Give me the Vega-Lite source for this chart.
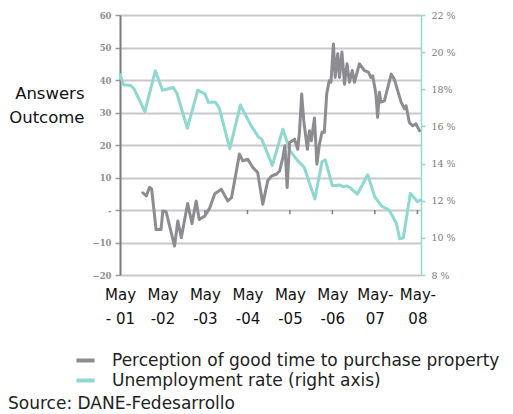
{
  "$schema": "https://vega.github.io/schema/vega-lite/v6.json",
  "width": 301,
  "height": 260,
  "autosize": "none",
  "padding": {"left": 120, "top": 15, "right": 92, "bottom": 139},
  "background": "white",
  "config": {
    "view": {"stroke": null},
    "font": "DejaVu Sans",
    "legend": {
      "orient": "none",
      "legendX": -46,
      "legendY": 334,
      "title": null,
      "labelFont": "DejaVu Sans",
      "labelFontSize": 17,
      "labelColor": "#222222",
      "labelLimit": 500,
      "symbolType": "stroke",
      "symbolStrokeWidth": 4,
      "symbolSize": 330,
      "labelOffset": 15,
      "rowPadding": -2
    },
    "title": {"font": "DejaVu Sans"}
  },
  "title": {
    "text": "Source: DANE-Fedesarrollo",
    "orient": "bottom",
    "anchor": "start",
    "frame": "group",
    "dx": -112,
    "offset": 7,
    "fontSize": 17,
    "fontWeight": "normal",
    "color": "#222222"
  },
  "datasets": {
    "unemp": [
      {"date": "2001-05-01", "rate": 18.8},
      {"date": "2001-06-01", "rate": 18.25},
      {"date": "2001-08-01", "rate": 18.2},
      {"date": "2001-09-01", "rate": 18.0},
      {"date": "2001-12-01", "rate": 16.8},
      {"date": "2002-03-01", "rate": 19.0},
      {"date": "2002-05-01", "rate": 17.95},
      {"date": "2002-08-01", "rate": 18.1},
      {"date": "2002-09-01", "rate": 17.8},
      {"date": "2002-12-01", "rate": 15.9},
      {"date": "2003-03-01", "rate": 17.95},
      {"date": "2003-05-01", "rate": 17.75},
      {"date": "2003-06-01", "rate": 17.3},
      {"date": "2003-08-01", "rate": 17.3},
      {"date": "2003-09-01", "rate": 17.0},
      {"date": "2003-12-01", "rate": 14.8},
      {"date": "2004-03-01", "rate": 17.15},
      {"date": "2004-06-01", "rate": 16.05},
      {"date": "2004-08-01", "rate": 15.45},
      {"date": "2004-09-01", "rate": 15.3},
      {"date": "2004-12-01", "rate": 13.9},
      {"date": "2005-03-01", "rate": 15.85},
      {"date": "2005-05-01", "rate": 14.7},
      {"date": "2005-07-01", "rate": 14.2},
      {"date": "2005-09-01", "rate": 13.8},
      {"date": "2005-12-01", "rate": 12.1},
      {"date": "2006-02-01", "rate": 14.1},
      {"date": "2006-03-01", "rate": 14.2},
      {"date": "2006-05-01", "rate": 12.8},
      {"date": "2006-07-01", "rate": 12.85},
      {"date": "2006-08-01", "rate": 12.75},
      {"date": "2006-09-01", "rate": 12.8},
      {"date": "2006-10-01", "rate": 12.7},
      {"date": "2006-12-01", "rate": 12.35},
      {"date": "2007-03-01", "rate": 13.4},
      {"date": "2007-05-01", "rate": 12.2},
      {"date": "2007-07-01", "rate": 11.7},
      {"date": "2007-09-01", "rate": 11.5},
      {"date": "2007-11-01", "rate": 10.8},
      {"date": "2007-12-01", "rate": 9.95},
      {"date": "2008-01-01", "rate": 10.0},
      {"date": "2008-03-01", "rate": 12.4},
      {"date": "2008-05-01", "rate": 11.95},
      {"date": "2008-06-01", "rate": 12.05}
    ],
    "perception": [
      {"date": "2001-11-13", "value": 5.3},
      {"date": "2001-12-13", "value": 4.3},
      {"date": "2002-01-10", "value": 7.0},
      {"date": "2002-01-28", "value": 6.5},
      {"date": "2002-03-07", "value": -6.0},
      {"date": "2002-04-19", "value": -6.0},
      {"date": "2002-05-04", "value": -0.3},
      {"date": "2002-06-01", "value": -0.5},
      {"date": "2002-08-13", "value": -11.1},
      {"date": "2002-09-10", "value": -3.4},
      {"date": "2002-10-10", "value": -8.5},
      {"date": "2002-12-04", "value": 2.0},
      {"date": "2003-01-10", "value": -4.2},
      {"date": "2003-02-15", "value": 2.8},
      {"date": "2003-03-13", "value": -2.9},
      {"date": "2003-04-28", "value": -1.9},
      {"date": "2003-06-10", "value": 0.5},
      {"date": "2003-07-25", "value": 5.0},
      {"date": "2003-09-19", "value": 6.4},
      {"date": "2003-11-13", "value": 2.8},
      {"date": "2003-12-16", "value": 3.8},
      {"date": "2004-02-22", "value": 17.2},
      {"date": "2004-03-22", "value": 15.1},
      {"date": "2004-05-04", "value": 15.6},
      {"date": "2004-06-16", "value": 13.1},
      {"date": "2004-07-28", "value": 11.5},
      {"date": "2004-09-10", "value": 1.8},
      {"date": "2004-10-22", "value": 9.0},
      {"date": "2004-11-25", "value": 10.5},
      {"date": "2005-01-04", "value": 11.0},
      {"date": "2005-02-01", "value": 12.0},
      {"date": "2005-03-01", "value": 16.1},
      {"date": "2005-03-19", "value": 19.8},
      {"date": "2005-04-07", "value": 6.9},
      {"date": "2005-04-28", "value": 20.8},
      {"date": "2005-06-10", "value": 21.8},
      {"date": "2005-07-07", "value": 18.7},
      {"date": "2005-07-22", "value": 23.9},
      {"date": "2005-08-10", "value": 35.7},
      {"date": "2005-08-28", "value": 27.5},
      {"date": "2005-09-28", "value": 18.7},
      {"date": "2005-10-16", "value": 24.4},
      {"date": "2005-11-01", "value": 21.3},
      {"date": "2005-11-28", "value": 28.3},
      {"date": "2005-12-19", "value": 14.1},
      {"date": "2006-01-10", "value": 20.3},
      {"date": "2006-02-01", "value": 23.9},
      {"date": "2006-02-21", "value": 23.9},
      {"date": "2006-03-13", "value": 35.7},
      {"date": "2006-04-04", "value": 39.8},
      {"date": "2006-04-19", "value": 39.3},
      {"date": "2006-05-10", "value": 51.1},
      {"date": "2006-05-25", "value": 40.8},
      {"date": "2006-06-16", "value": 48.1},
      {"date": "2006-07-01", "value": 40.8},
      {"date": "2006-07-22", "value": 48.6},
      {"date": "2006-08-13", "value": 38.7},
      {"date": "2006-09-04", "value": 45.0},
      {"date": "2006-09-25", "value": 39.3},
      {"date": "2006-10-19", "value": 42.9},
      {"date": "2006-11-07", "value": 39.3},
      {"date": "2006-12-19", "value": 45.0},
      {"date": "2007-02-01", "value": 42.9},
      {"date": "2007-03-07", "value": 42.4},
      {"date": "2007-03-28", "value": 40.8},
      {"date": "2007-04-13", "value": 41.3},
      {"date": "2007-05-10", "value": 35.7},
      {"date": "2007-05-25", "value": 28.5},
      {"date": "2007-06-10", "value": 36.2},
      {"date": "2007-06-22", "value": 33.2},
      {"date": "2007-07-22", "value": 33.6},
      {"date": "2007-09-19", "value": 41.8},
      {"date": "2007-10-16", "value": 40.2},
      {"date": "2007-12-13", "value": 33.2},
      {"date": "2008-01-10", "value": 31.2},
      {"date": "2008-01-25", "value": 32.1},
      {"date": "2008-02-22", "value": 26.9},
      {"date": "2008-03-22", "value": 25.9},
      {"date": "2008-04-19", "value": 26.5},
      {"date": "2008-05-19", "value": 24.4}
    ],
    "ticks": [
      {"date": "2002-05-01"},
      {"date": "2003-05-01"},
      {"date": "2004-05-01"},
      {"date": "2005-05-01"},
      {"date": "2006-05-01"},
      {"date": "2007-05-01"},
      {"date": "2008-05-01"}
    ]
  },
  "layer": [
    {
      "data": {"name": "unemp"},
      "mark": {"type": "line", "strokeWidth": 3, "strokeJoin": "round", "strokeCap": "round"},
      "encoding": {
        "x": {"field": "date", "type": "temporal"},
        "y": {
          "field": "rate",
          "type": "quantitative",
          "scale": {"domain": [8, 22], "nice": false, "zero": false},
          "axis": {
            "orient": "right",
            "title": null,
            "values": [8, 10, 12, 14, 16, 18, 20, 22],
            "labelExpr": "datum.value == 18 ? '18%' : datum.value + ' %'",
            "grid": false,
            "domainColor": "#93d9d3",
            "domainWidth": 1.5,
            "tickColor": "#93d9d3",
            "tickWidth": 1.5,
            "tickSize": 4,
            "labelPadding": 6,
            "labelFont": "DejaVu Serif",
            "labelFontSize": 9.5,
            "labelColor": "#7a7a7a"
          }
        },
        "color": {
          "datum": "Unemployment rate (right axis)",
          "type": "nominal",
          "scale": {
            "domain": ["Perception of good time to purchase property", "Unemployment rate (right axis)"],
            "range": ["#8d8c91", "#8fd8d2"]
          }
        }
      }
    },
    {
      "mark": {"type": "rule", "color": "#7d7d7d", "strokeWidth": 2},
      "encoding": {
        "y": {"datum": 0, "type": "quantitative", "scale": {"domain": [-20, 60], "nice": false}, "axis": null}
      }
    },
    {
      "data": {"name": "ticks"},
      "mark": {"type": "rule", "color": "#7d7d7d", "strokeWidth": 1.5},
      "encoding": {
        "x": {"field": "date", "type": "temporal"},
        "y": {"datum": 0, "type": "quantitative", "scale": {"domain": [-20, 60], "nice": false}, "axis": null},
        "y2": {"datum": -1.3}
      }
    },
    {
      "data": {"name": "perception"},
      "mark": {"type": "line", "strokeWidth": 3, "strokeJoin": "round", "strokeCap": "round"},
      "encoding": {
        "x": {
          "field": "date",
          "type": "temporal",
          "scale": {"domain": ["2001-05-01", "2008-06-01"], "nice": false},
          "axis": {
            "orient": "bottom",
            "title": null,
            "domain": false,
            "ticks": false,
            "grid": false,
            "values": [
              {"year": 2001, "month": 5, "date": 1, "utc": true},
              {"year": 2002, "month": 5, "date": 1, "utc": true},
              {"year": 2003, "month": 5, "date": 1, "utc": true},
              {"year": 2004, "month": 5, "date": 1, "utc": true},
              {"year": 2005, "month": 5, "date": 1, "utc": true},
              {"year": 2006, "month": 5, "date": 1, "utc": true},
              {"year": 2007, "month": 5, "date": 1, "utc": true},
              {"year": 2008, "month": 5, "date": 1, "utc": true}
            ],
            "labelExpr": "utcyear(datum.value) == 2001 ? ['May', '- 01'] : (utcyear(datum.value) >= 2007 ? ['May-', utcFormat(datum.value, '%y')] : ['May', '-' + utcFormat(datum.value, '%y')])",
            "labelFont": "DejaVu Sans",
            "labelFontSize": 15,
            "labelColor": "#111111",
            "labelLineHeight": 24,
            "labelPadding": 12,
            "labelOverlap": false,
            "labelBound": false,
            "labelFlush": false
          }
        },
        "y": {
          "field": "value",
          "type": "quantitative",
          "scale": {"domain": [-20, 60], "nice": false},
          "axis": {
            "orient": "left",
            "values": [-20, -10, 0, 10, 20, 30, 40, 50, 60],
            "labelExpr": "datum.value == 0 ? '-' : datum.label",
            "grid": true,
            "gridColor": "#cbc7ce",
            "gridWidth": 2,
            "domainColor": "#7b7b7b",
            "domainWidth": 2,
            "tickColor": "#9a9a9a",
            "tickSize": 5,
            "tickWidth": 1.5,
            "labelPadding": 4,
            "labelFont": "DejaVu Serif",
            "labelFontSize": 8.5,
            "labelFontWeight": "bold",
            "labelColor": "#8e8e8e",
            "title": ["Answers", "Outcome"],
            "titleAngle": 0,
            "titleAlign": "right",
            "titleBaseline": "alphabetic",
            "titleX": -36,
            "titleY": 83,
            "titleFont": "DejaVu Sans",
            "titleFontSize": 16.5,
            "titleFontWeight": "normal",
            "titleColor": "#111111",
            "titleLineHeight": 24
          }
        },
        "color": {"datum": "Perception of good time to purchase property", "type": "nominal"}
      }
    }
  ],
  "resolve": {"scale": {"y": "independent"}}
}
